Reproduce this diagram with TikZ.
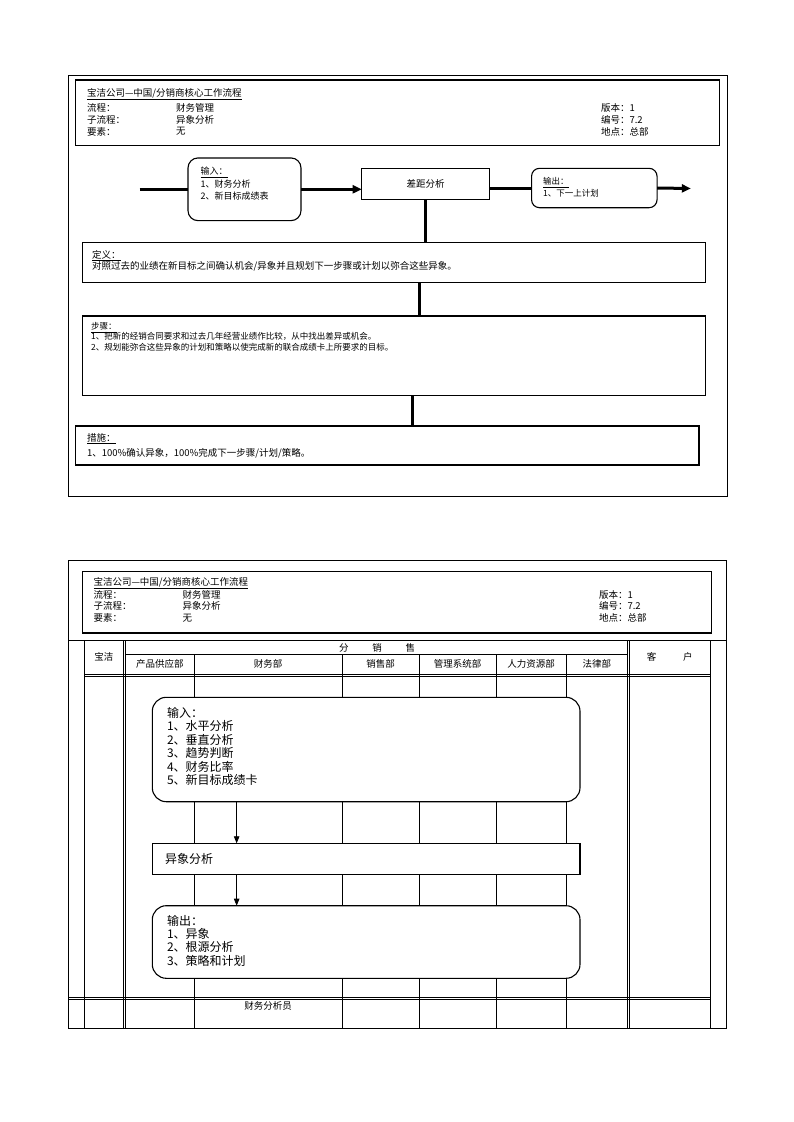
\documentclass[tikz,border=0pt]{standalone}
\usepackage{fontspec}
\setmainfont{Noto Sans CJK SC}
\usetikzlibrary{positioning, arrows.meta, calc}

\begin{document}
\begin{tikzpicture}[
  x=1pt, y=-1pt,
  every node/.style={inner sep=0pt, outer sep=0pt},
  frame/.style={draw, line width=0.8pt},
  hdrbox/.style={draw, line width=1.2pt},
  flowbox/.style={draw, line width=1.1pt, fill=white},
  roundbox/.style={flowbox, rounded corners=10pt},
  bar/.style={line width=3pt},
  bararrow/.style={bar, -{Triangle[length=9pt,width=8pt]}},
  rule/.style={line width=0.8pt},
  flowarrow/.style={line width=0.8pt, -{Triangle[length=7pt,width=5.5pt]}},
  hdrtxt/.style={anchor=west, font=\fontsize{9.5}{12}\selectfont},
  boxtxt/.style={anchor=north west, align=left},
  headtxt/.style={font=\fontsize{9.5}{12}\selectfont}
]
\useasboundingbox (0,0) rectangle (793,1122);

% ==== PAGE 1: overview ====
\node[frame, minimum width=659pt, minimum height=421pt] (page1) at (397.5,286.2) {};
\node[hdrbox, minimum width=644pt, minimum height=65.7pt] (head1) at (397.5,112.8) {};
\node[hdrtxt] (title1) at (87,94.3) {\underline{宝洁公司—中国/分销商核心工作流程}};
\foreach \lab/\val/\ver [count=\i] in {流程：/财务管理/版本：1, 子流程：/异象分析/编号：7.2, 要素：/无/地点：总部} {
  \node[hdrtxt] (lab1-\i) at (87, 95.6+12*\i) {\lab};
  \node[hdrtxt] (val1-\i) at (176, 95.6+12*\i) {\val};
  \node[hdrtxt] (ver1-\i) at (601, 95.6+12*\i) {\ver};
}

% ---- flow row ----
\node[roundbox, minimum width=113pt, minimum height=62.7pt] (input) at (244.5,189.3) {};
\node[boxtxt, font=\fontsize{9}{12.5}\selectfont] (inputtxt)
  at ([shift={(12.7pt,-9.2pt)}]input.north west) {\underline{输入：}\\1、财务分析\\2、新目标成绩表};

\node[flowbox, minimum width=127.7pt, minimum height=31.3pt,
      font=\fontsize{9.5}{12}\selectfont] (gap) at (425.5,183.7) {差距分析};

\node[roundbox, rounded corners=8pt, minimum width=125.5pt, minimum height=39.4pt] (output) at (594.3,188) {};
\node[boxtxt, font=\fontsize{8.5}{12}\selectfont] (outputtxt)
  at ([shift={(11.5pt,-9.5pt)}]output.north west) {\underline{输出：}\\1、下一上计划};

\coordinate (inlet) at (139.6,189.3);
\coordinate (outlet) at (690.8,188.5);
\draw[bar] (inlet) -- (input.west);
\draw[bararrow] (input.east) -- (input.east -| gap.west);
\draw[bar] (gap.east |- output.west) -- (output.west);
\draw[bararrow] (output.east) -- (outlet);

% ---- definition / steps / measures ----
\node[flowbox, minimum width=622.9pt, minimum height=40pt] (def) at (394.2,262.7) {};
\node[boxtxt, font=\fontsize{9.5}{11}\selectfont] (deftxt)
  at ([shift={(9.3pt,-7.5pt)}]def.north west)
  {\underline{定义：}\\对照过去的业绩在新目标之间确认机会/异象并且规划下一步骤或计划以弥合这些异象。};

\node[flowbox, minimum width=622.9pt, minimum height=79.5pt] (steps) at (394.2,355.75) {};
\node[boxtxt, font=\fontsize{8.5}{10.3}\selectfont] (stepstxt)
  at ([shift={(8.3pt,-6.5pt)}]steps.north west)
  {\underline{步骤：}\\1、把新的经销合同要求和过去几年经营业绩作比较，从中找出差异或机会。\\2、规划能弥合这些异象的计划和策略以使完成新的联合成绩卡上所要求的目标。};

\node[flowbox, minimum width=623.4pt, minimum height=39pt] (measure) at (387.3,445.5) {};
\node[boxtxt, font=\fontsize{9.5}{15}\selectfont] (measuretxt)
  at ([shift={(11.4pt,-7.3pt)}]measure.north west)
  {\underline{措施：}\\1、100\%确认异象，100\%完成下一步骤/计划/策略。};

\draw[bar] (gap.south) -- (gap.south |- def.north);
\draw[bar] ([xshift=24.8pt]def.south) -- ([xshift=24.8pt]def.south |- steps.north);
\draw[bar] ([xshift=17.8pt]steps.south) -- ([xshift=17.8pt]steps.south |- measure.north);

% ==== PAGE 2: swim lanes ====
\node[frame, minimum width=658.5pt, minimum height=468pt] (page2) at (397.25,794) {};
\node[hdrbox, minimum width=628.8pt, minimum height=61.3pt] (head2) at (397.1,602.35) {};
\node[hdrtxt] (title2) at (93.5,583.3) {\underline{宝洁公司—中国/分销商核心工作流程}};
\foreach \lab/\val/\ver [count=\i] in {流程：/财务管理/版本：1, 子流程：/异象分析/编号：7.2, 要素：/无/地点：总部} {
  \node[hdrtxt] (lab2-\i) at (93.5, 583.3+11.5*\i) {\lab};
  \node[hdrtxt] (val2-\i) at (182.6, 583.3+11.5*\i) {\val};
  \node[hdrtxt] (ver2-\i) at (599, 583.3+11.5*\i) {\ver};
}

% ---- lane grid ----
\draw[rule] (68,640.7) -- (726.5,640.7);
\draw[rule] (125.5,654) -- (627.5,654);
\draw[rule] (84,674) -- (710,674);
\draw[rule] (84,676) -- (710,676);
\draw[rule] (68,997.3) -- (710,997.3);
\draw[rule] (68,999.3) -- (710,999.3);
\foreach \x in {84,123.5,125.5,627.5,629.5,710}
  \draw[rule] (\x,640.7) -- (\x,1028);
\foreach \x in {194.4,342,419,496,566}
  \draw[rule] (\x,654) -- (\x,1028);

\node[headtxt] (baojie) at (103.8,657.3) {宝洁};
\node[headtxt] (fenxiao) at (377,647.5) {分\hspace{2.5em}销\hspace{2.5em}售};
\node[headtxt] (kehu) at (669.7,657.3) {客\hspace{2.8em}户};
\foreach \name/\xl/\xr [count=\i] in {产品供应部/125.5/194.4, 财务部/194.4/342, 销售部/342/419,
    管理系统部/419/496, 人力资源部/496/566, 法律部/566/627.5}
  \node[headtxt] (dept-\i) at ({(\xl+\xr)/2},664.3) {\name};

% ---- lane flow ----
\node[roundbox, rounded corners=14pt, minimum width=427.7pt, minimum height=104.4pt] (input2) at (366.15,749.5) {};
\node[boxtxt, font=\fontsize{12}{13.5}\selectfont] (input2txt)
  at ([shift={(14.7pt,-10pt)}]input2.north west)
  {输入：\\1、水平分析\\2、垂直分析\\3、趋势判断\\4、财务比率\\5、新目标成绩卡};

\node[flowbox, minimum width=427.7pt, minimum height=31pt] (anomaly) at (366.15,858.8) {};
\node[anchor=west, font=\fontsize{12}{13.5}\selectfont] (anomalytxt)
  at ([xshift=12.7pt]anomaly.west) {异象分析};

\node[roundbox, rounded corners=14pt, minimum width=427.7pt, minimum height=72.6pt] (output2) at (366.15,942) {};
\node[boxtxt, font=\fontsize{12}{13.3}\selectfont] (output2txt)
  at ([shift={(14.7pt,-9.3pt)}]output2.north west)
  {输出：\\1、异象\\2、根源分析\\3、策略和计划};

\draw[flowarrow] ([xshift=-129.5pt]input2.south) -- ([xshift=-129.5pt]input2.south |- anomaly.north);
\draw[flowarrow] ([xshift=-129.5pt]anomaly.south) -- ([xshift=-129.5pt]anomaly.south |- output2.north);

\node[headtxt] (analyst) at (268.2,1005.5) {财务分析员};

\end{tikzpicture}
\end{document}
